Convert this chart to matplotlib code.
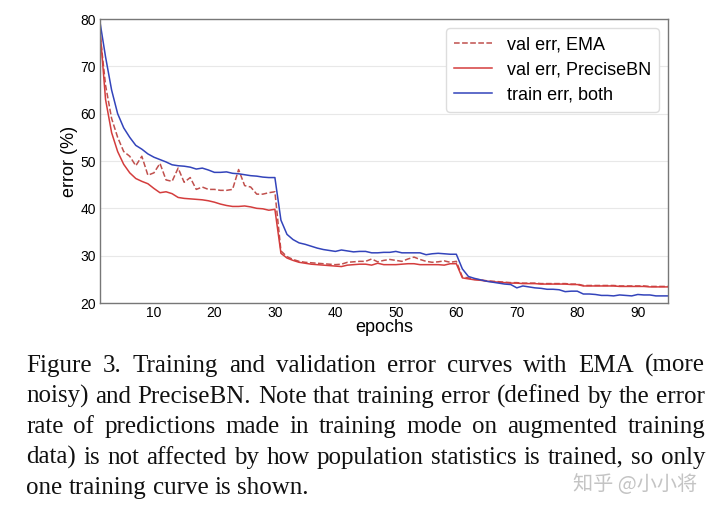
import matplotlib
matplotlib.use("Agg")
import matplotlib.pyplot as plt
import numpy as np

epochs = np.arange(1, 96)

train_err = [80, 72, 65, 60, 57, 55, 53.3, 52.5, 51.5, 50.8,
             50.3, 49.8, 49.2, 49.0, 48.9, 48.7, 48.3, 48.5, 48.1, 47.6,
             47.6, 47.7, 47.4, 47.3, 47.1, 46.9, 46.8, 46.6, 46.5, 46.5,
             37.5, 34.5, 33.4, 32.7, 32.4, 32.0, 31.6, 31.3, 31.1, 30.9,
             31.2, 31.0, 30.8, 30.9, 30.9, 30.6, 30.6, 30.7, 30.7, 30.9,
             30.6, 30.6, 30.6, 30.6, 30.2, 30.4, 30.5, 30.4, 30.3, 30.3,
             27.2, 25.6, 25.2, 24.9, 24.6, 24.4, 24.2, 24.0, 23.9, 23.2,
             23.6, 23.4, 23.2, 23.1, 22.9, 22.9, 22.8, 22.4, 22.5, 22.5,
             21.9, 21.9, 21.8, 21.6, 21.6, 21.5, 21.7, 21.6, 21.5, 21.8,
             21.7, 21.7, 21.5, 21.5, 21.5]

val_precise = [79, 63, 56, 52, 49.3, 47.5, 46.3, 45.7, 45.2, 44.2,
               43.3, 43.5, 43.1, 42.3, 42.1, 42.0, 41.9, 41.8, 41.6, 41.3,
               40.9, 40.6, 40.4, 40.4, 40.5, 40.3, 40.0, 39.9, 39.6, 39.8,
               30.5, 29.5, 29.0, 28.6, 28.4, 28.2, 28.1, 28.0, 27.9, 27.8,
               27.7, 28.0, 28.1, 28.2, 28.2, 28.0, 28.4, 28.1, 28.1, 28.1,
               28.2, 28.3, 28.3, 28.1, 28.1, 28.1, 28.1, 28.0, 28.3, 28.3,
               25.3, 25.1, 24.9, 24.8, 24.6, 24.5, 24.4, 24.3, 24.2, 24.2,
               24.1, 24.1, 24.1, 24.0, 24.0, 24.0, 24.0, 24.0, 23.9, 23.9,
               23.6, 23.6, 23.6, 23.6, 23.6, 23.6, 23.5, 23.5, 23.5, 23.5,
               23.5, 23.4, 23.4, 23.4, 23.4]

val_ema = [78, 66, 59, 55, 52, 51, 49, 51, 47, 47.5,
           49.5, 46, 45.7, 48.5, 45.5, 46.5, 44, 44.5, 44, 44,
           43.8, 43.8, 44, 48.2, 44.8, 44.5, 43, 43, 43.3, 43.5,
           31, 29.8, 29.2, 28.8, 28.6, 28.5, 28.4, 28.3, 28.2, 28.1,
           28.2, 28.6, 28.7, 28.8, 28.8, 29.3, 28.7, 29.0, 29.2, 29.0,
           28.8, 29.3, 29.7, 29.2, 28.8, 28.6, 28.7, 28.9, 28.6, 28.8,
           25.5, 25.3, 25.0, 24.9, 24.7, 24.6, 24.5, 24.4, 24.3, 24.3,
           24.2, 24.2, 24.2, 24.1, 24.1, 24.1, 24.1, 24.1, 24.0, 24.0,
           23.7, 23.7, 23.7, 23.7, 23.7, 23.7, 23.6, 23.6, 23.6, 23.6,
           23.6, 23.5, 23.5, 23.5, 23.5]

caption_lines = [
    "Figure 3. Training and validation error curves with EMA (more",
    "noisy) and PreciseBN. Note that training error (defined by the error",
    "rate of predictions made in training mode on augmented training",
    "data) is not affected by how population statistics is trained, so only",
    "one training curve is shown.",
]

W, H = 720, 511
fig = plt.figure(figsize=(W / 100, H / 100), dpi=100)
ax = fig.add_axes([99.5 / W, 1 - 303 / H, 568.5 / W, 284 / H])

ax.plot(epochs, val_ema, "--", color="#c0504d", lw=1.1, label="val err, EMA")
ax.plot(epochs, val_precise, color="#d43d3d", lw=1.1, label="val err, PreciseBN")
ax.plot(epochs, train_err, color="#3344bb", lw=1.1, label="train err, both")

ax.set_xlim(1, 95)
ax.set_ylim(20, 80)
ax.set_xticks(range(10, 100, 10))
ax.set_yticks(range(20, 90, 10))
ax.tick_params(length=0, labelsize=10, pad=2.5)
for lab in ax.get_xticklabels() + ax.get_yticklabels():
    lab.set_family("Liberation Sans")
ax.yaxis.grid(True, color="#e8e8e8", lw=0.8)
ax.set_axisbelow(True)
for s in ax.spines.values():
    s.set_color("#777777")
    s.set_linewidth(1.0)
ax.set_xlabel("epochs", family="Liberation Sans", fontsize=13, labelpad=-1)
ax.set_ylabel("error (%)", family="Liberation Sans", fontsize=13, labelpad=2)
leg = ax.legend(loc="upper right", prop={"family": "Liberation Sans", "size": 13},
                frameon=True, fancybox=True, framealpha=1, edgecolor="#dddddd",
                handlelength=2.1, handletextpad=0.8, borderpad=0.45,
                labelspacing=0.45, borderaxespad=0.5)

# caption, justified word by word
fig.canvas.draw()
r = fig.canvas.get_renderer()
left, right = 26, 705
base0, step = 372, 30.5
fs = 18
for i, line in enumerate(caption_lines):
    words = line.split()
    y = 1 - (base0 + i * step) / H
    texts = [fig.text(0, y, w, fontsize=fs, family="Liberation Serif",
                      va="baseline", color="#111111") for w in words]
    widths = [t.get_window_extent(r).width for t in texts]
    if i == len(caption_lines) - 1:
        gap = fs * 0.25 * 100 / 72
    else:
        gap = (right - left - sum(widths)) / (len(words) - 1)
    x = left
    for t, w in zip(texts, widths):
        t.set_x(x / W)
        x += w + gap

fig.text(635 / W, 1 - 484 / H, "知乎 @小小将", fontsize=14.5, color="#c4c4c4",
         family=["Noto Sans CJK SC", "DejaVu Sans"], ha="center", va="center")

fig.savefig("out.png", dpi=100)
